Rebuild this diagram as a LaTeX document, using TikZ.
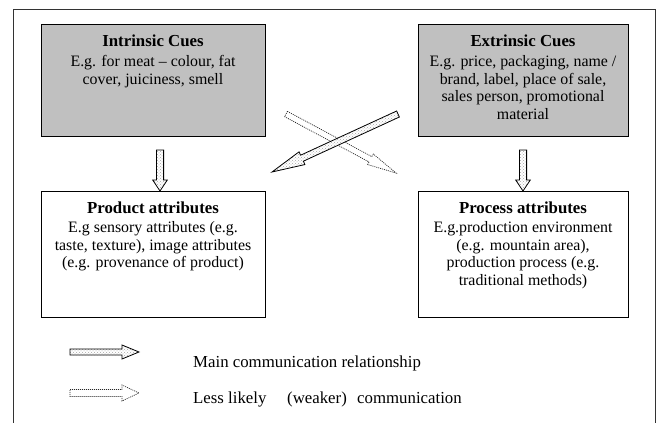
\documentclass[tikz,border=0pt]{standalone}
\usepackage{fontspec}
\setmainfont{Liberation Serif}
\usetikzlibrary{calc,patterns}
\definecolor{cuegray}{RGB}{192,192,192}
\tikzset{
  cuebox/.style={draw=black, line width=0.9pt, fill=cuegray, inner sep=0pt, anchor=north west},
  attrbox/.style={draw=black, line width=0.9pt, fill=white, inner sep=0pt, anchor=north west},
  titletext/.style={font=\fontsize{16.8}{19.3}\selectfont\bfseries, inner sep=0pt, anchor=base},
  bodytext/.style={font=\fontsize{15.9}{17.8}\selectfont, align=center, inner sep=0pt, anchor=north},
  legendtext/.style={font=\fontsize{16.8}{19.3}\selectfont, inner sep=0pt, anchor=base west},
  blockarrow/.style n args={3}{to path={
    let \p1=(\tikztostart), \p2=(\tikztotarget),
        \n1={atan2(\y2-\y1,\x2-\x1)}, \n2={veclen(\x2-\x1,\y2-\y1)} in
    {[shift={(\p1)}, rotate=\n1]
      ({0pt},{#1}) -- ({\n2-#3},{#1}) -- ({\n2-#3},{#2}) -- ({\n2+0pt},{0pt})
      -- ({\n2-#3},{-#2}) -- ({\n2-#3},{-#1}) -- ({0pt},{-#1}) -- cycle}}},
  mainarrow/.style={draw=black, line width=0.8pt, preaction={fill=white},
    pattern=crosshatch dots, pattern color=gray!70, line join=miter},
  weakarrow/.style={draw=black!85, line width=0.7pt, dash pattern=on 1pt off 1pt,
    fill=white, line join=miter},
}
\begin{document}
\begin{tikzpicture}[x=1pt, y=-1pt]
\useasboundingbox (0,0) rectangle (659,423);
% outer frame
\draw[black!80, line width=1pt] (13,423) -- (13,9) -- (655,9) -- (655,423);

% boxes
\node[cuebox, minimum width=224pt, minimum height=112pt] (intr) at (41,24) {};
\node[cuebox, minimum width=210pt, minimum height=112pt] (extr) at (418,24) {};
\node[attrbox, minimum width=224pt, minimum height=126pt] (prod) at (41,191) {};
\node[attrbox, minimum width=210pt, minimum height=126pt] (proc) at (418,191) {};

% texts
\node[titletext] (intrtitle) at (153,46) {Intrinsic Cues};
\node[bodytext] (intrbody) at (153,55) {E.g. for meat -- colour, fat\\cover, juiciness, smell};
\node[titletext] (extrtitle) at (523,46) {Extrinsic Cues};
\node[bodytext] (extrbody) at (523,55) {E.g. price, packaging, name /\\brand, label, place of sale,\\sales person, promotional\\material};
\node[titletext] (prodtitle) at (153,213) {Product attributes};
\node[bodytext] (prodbody) at (153,221) {E.g sensory attributes (e.g.\\taste, texture), image attributes\\(e.g. provenance of product)};
\node[titletext] (proctitle) at (523,213) {Process attributes};
\node[bodytext] (procbody) at (523,221) {E.g.production environment\\(e.g. mountain area),\\production process (e.g.\\traditional methods)};

% arrow end points
\coordinate (dlt) at (160,150);
\coordinate (dlh) at (160,191);
\coordinate (drt) at (523,150);
\coordinate (drh) at (523,191);
\coordinate (mt) at (398,114);
\coordinate (mh) at (272,172);
\coordinate (wt) at (286,114);
\coordinate (wh) at (396,173);

\draw[weakarrow, blockarrow={3pt}{6pt}{29pt}] (wt) to (wh);
\draw[mainarrow, blockarrow={3.3pt}{7pt}{33pt}] (mt) to (mh);
\draw[mainarrow, blockarrow={3.6pt}{7.3pt}{11pt}] (dlt) to (dlh);
\draw[mainarrow, blockarrow={3.6pt}{7.3pt}{11pt}] (drt) to (drh);

% legend
\coordinate (lmt) at (70,352);
\coordinate (lmh) at (139,352);
\coordinate (lwt) at (70,393);
\coordinate (lwh) at (139,393);
\draw[mainarrow, blockarrow={3pt}{7pt}{17pt}] (lmt) to (lmh);
\draw[weakarrow, blockarrow={3.5pt}{8pt}{17pt}] (lwt) to (lwh);
\node[legendtext] (legmain) at (193,367) {Main communication relationship};
\node[legendtext] (legless) at (193,403) {Less likely};
\node[legendtext] (legweak) at (287,403) {(weaker)};
\node[legendtext] (legcomm) at (357,403) {communication};
\end{tikzpicture}
\end{document}
